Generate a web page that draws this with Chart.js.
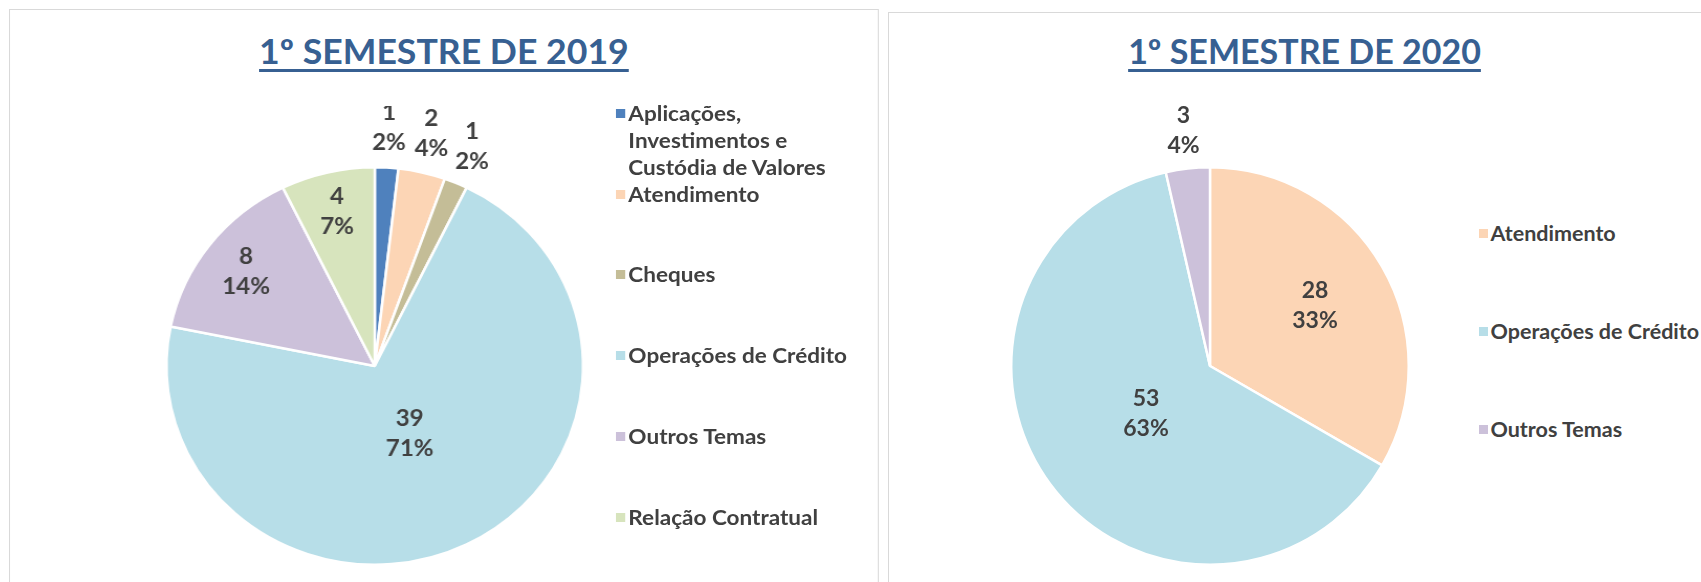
<!DOCTYPE html>
<html lang="pt-BR">
<head>
<meta charset="utf-8">
<title>Reclamações por tema - 1º semestre</title>
<script src="https://cdn.jsdelivr.net/npm/chart.js@4.4.1/dist/chart.umd.min.js"></script>
<style>
  html, body { margin: 0; padding: 0; background: #fff; overflow: hidden; }
  body { width: 1701px; height: 582px; position: relative; font-family: Lato, "Open Sans", sans-serif; font-weight: 700; color: #404040; }
  .panel { position: absolute; height: 620px; border: 1.5px solid #d9d9d9; box-sizing: border-box; background: #fff; }
  .panel h2 { position: absolute; left: 0; right: 0; margin: 0; text-align: center; font-size: 34px; line-height: 40px; font-weight: 700; color: #376092; text-decoration: underline; text-decoration-thickness: 3px; text-underline-offset: 5px; }
  .panel canvas { position: absolute; }
  .legend { position: absolute; margin: 0; padding: 0; list-style: none; font-size: 21.5px; }
  .legend li { position: relative; box-sizing: border-box; padding-left: 12px; line-height: 27px; white-space: nowrap; }
  .legend li span { position: absolute; left: 0; width: 9px; height: 9px; }
</style>
</head>
<body>
<div id="panel2019" class="panel"></div>
<div id="panel2020" class="panel"></div>

<script>
// Dados
const titulo2019 = '1º SEMESTRE DE 2019';
const categorias2019 = [['Aplicações,', 'Investimentos e', 'Custódia de Valores'], 'Atendimento', 'Cheques', 'Operações de Crédito', 'Outros Temas', 'Relação Contratual'];
const valores2019 = [1, 2, 1, 39, 8, 4];

const titulo2020 = '1º SEMESTRE DE 2020';
const categorias2020 = ['Atendimento', 'Operações de Crédito', 'Outros Temas'];
const valores2020 = [28, 53, 3];

// Cores por tema
const CORES = {
  'Aplicações,': '#4f81bd',
  'Atendimento': '#fcd5b5',
  'Cheques': '#c4bd97',
  'Operações de Crédito': '#b7dee8',
  'Outros Temas': '#ccc1da',
  'Relação Contratual': '#d7e4bd'
};
const FONTE = 'Lato, "Open Sans", sans-serif';
const RAIO = 199;

/**
 * Percentuais inteiros que somam 100 (maior resto)
 */
function percentuais(valores) {
  const total = valores.reduce((a, b) => a + b, 0);
  const brutos = valores.map(v => v * 100 / total);
  const inteiros = brutos.map(Math.floor);
  let falta = 100 - inteiros.reduce((a, b) => a + b, 0);
  brutos
    .map((b, i) => ({ i, resto: b - Math.floor(b) }))
    .sort((a, b) => b.resto - a.resto)
    .forEach(({ i }) => { if (falta > 0) { inteiros[i]++; falta--; } });
  return inteiros.map(p => p + '%');
}

// Rótulos de valor e percentual sobre as fatias
const rotulosFatias = {
  id: 'rotulosFatias',
  afterDatasetsDraw(chart, args, opts) {
    const { ctx } = chart;
    const valores = chart.data.datasets[0].data;
    const pcts = percentuais(valores);
    ctx.save();
    ctx.font = `bold ${opts.tamanho}px ${FONTE}`;
    ctx.fillStyle = '#404040';
    ctx.textAlign = 'center';
    ctx.textBaseline = 'middle';
    chart.getDatasetMeta(0).data.forEach((arc, i) => {
      const { x, y, startAngle, endAngle, outerRadius } =
        arc.getProps(['x', 'y', 'startAngle', 'endAngle', 'outerRadius'], true);
      const meio = (startAngle + endAngle) / 2;
      const r = outerRadius * opts.raios[i];
      const cx = x + Math.cos(meio) * r;
      const cy = y + Math.sin(meio) * r;
      ctx.fillText(String(valores[i]), cx, cy - opts.entrelinha / 2);
      ctx.fillText(pcts[i], cx, cy + opts.entrelinha / 2);
    });
    ctx.restore();
  }
};

/**
 * Monta um painel: título, pizza e legenda
 */
function montarPainel(id, titulo, categorias, valores, layout) {
  const painel = document.getElementById(id);
  Object.assign(painel.style, {
    left: layout.x + 'px', top: layout.y + 'px', width: layout.largura + 'px'
  });
  if (layout.escalaX !== 1) {
    painel.style.transform = `scaleX(${layout.escalaX})`;
    painel.style.transformOrigin = '0 0';
  }

  const h2 = document.createElement('h2');
  h2.textContent = titulo;
  h2.style.top = layout.tituloY + 'px';
  painel.appendChild(h2);

  const cores = categorias.map(c => CORES[Array.isArray(c) ? c[0] : c]);

  const lado = 2 * RAIO + 122;
  const canvas = document.createElement('canvas');
  canvas.width = lado;
  canvas.height = lado;
  canvas.style.left = (layout.cx - lado / 2) + 'px';
  canvas.style.top = (layout.cy - lado / 2) + 'px';
  painel.appendChild(canvas);

  new Chart(canvas, {
    type: 'pie',
    data: {
      labels: categorias,
      datasets: [{
        data: valores,
        backgroundColor: cores,
        borderColor: '#ffffff',
        borderWidth: 2.5
      }]
    },
    options: {
      responsive: false,
      animation: false,
      layout: { padding: 60 },
      plugins: {
        legend: { display: false },
        tooltip: { enabled: false },
        rotulosFatias: { tamanho: 23, entrelinha: 30, raios: layout.raiosRotulos }
      }
    },
    plugins: [rotulosFatias]
  });

  // Legenda em HTML (permite o rótulo em várias linhas)
  const ul = document.createElement('ul');
  ul.className = 'legend';
  ul.style.left = layout.legendaX + 'px';
  ul.style.top = layout.legendaY + 'px';
  categorias.forEach((cat, i) => {
    const li = document.createElement('li');
    li.style.height = layout.passoLegenda + 'px';
    li.style.paddingTop = ((layout.passoLegenda - 27) / 2) + 'px';
    const marca = document.createElement('span');
    marca.style.background = cores[i];
    marca.style.top = ((layout.passoLegenda - 27) / 2 + 9) + 'px';
    li.appendChild(marca);
    li.insertAdjacentHTML('beforeend', (Array.isArray(cat) ? cat : [cat]).join('<br>'));
    ul.appendChild(li);
  });
  painel.appendChild(ul);
}

montarPainel('panel2019', titulo2019, categorias2019, valores2019, {
  x: 8.5, y: 9, largura: 830, escalaX: 1.048,
  tituloY: 21, cx: 348, cy: 355.5,
  legendaX: 578, legendaY: 63, passoLegenda: 80.75,
  raiosRotulos: [1.2, 1.2, 1.2, 0.38, 0.78, 0.8]
});

montarPainel('panel2020', titulo2020, categorias2020, valores2020, {
  x: 888, y: 12, largura: 833, escalaX: 1,
  tituloY: 17.5, cx: 321, cy: 353,
  legendaX: 589.5, legendaY: 172, passoLegenda: 97.75,
  raiosRotulos: [0.61, 0.4, 1.19]
});
</script>
</body>
</html>
